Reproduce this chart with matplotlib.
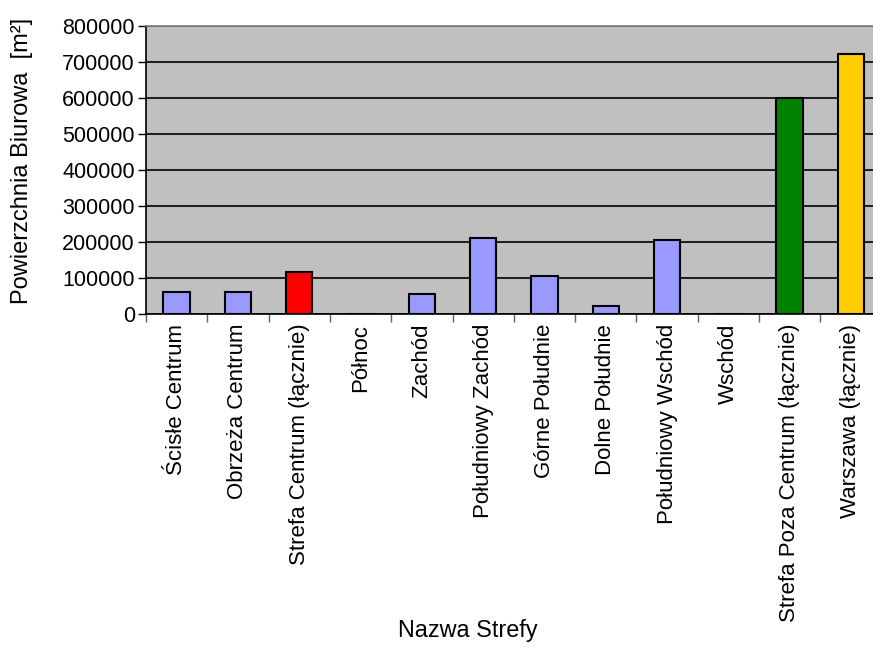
import matplotlib
matplotlib.use("Agg")
import matplotlib.pyplot as plt

categories = ["Ścisłe Centrum", "Obrzeża Centrum", "Strefa Centrum (łącznie)", "Północ",
              "Zachód", "Południowy Zachód", "Górne Południe", "Dolne Południe",
              "Południowy Wschód", "Wschód", "Strefa Poza Centrum (łącznie)", "Warszawa (łącznie)"]
values = [61000, 61000, 117000, 0, 56000, 211000, 106000, 22000, 206000, 0, 600000, 722000]
colors = ["#9999FF", "#9999FF", "#FF0000", "#9999FF", "#9999FF", "#9999FF", "#9999FF",
          "#9999FF", "#9999FF", "#9999FF", "#008000", "#FFCC00"]
yticks = [0, 100000, 200000, 300000, 400000, 500000, 600000, 700000, 800000]

plt.rcParams['font.family'] = ['Liberation Sans', 'DejaVu Sans']

fig = plt.figure(figsize=(8.73, 6.5), dpi=100)
ax = fig.add_axes([146/873, 1-314/650, (881.6-146)/873, (314-26)/650])
ax.set_facecolor("#C0C0C0")

x = list(range(len(categories)))
ax.bar(x, values, width=0.43, color=colors, edgecolor="black", linewidth=1.5, zorder=3)

ax.set_xlim(-0.5, len(categories) - 0.5)
ax.set_ylim(0, 800000)
ax.set_yticks(yticks)
ax.set_yticklabels([str(v) for v in yticks], fontsize=15.5)
ax.yaxis.grid(True, color="black", linewidth=1.2, zorder=1)
ax.set_axisbelow(True)

ax.set_xticks([i + 0.5 for i in range(-1, len(categories))], minor=False)
ax.set_xticklabels([])
ax.tick_params(axis="x", which="major", length=6, width=1, color="#606060")
ax.set_xticks(x, minor=True)
ax.set_xticklabels(categories, minor=True, rotation=90, fontsize=16)
ax.tick_params(axis="x", which="minor", length=0, pad=7)
ax.tick_params(axis="y", length=6, width=1, pad=2)

ax.spines["right"].set_visible(False)
ax.spines["top"].set_color("#808080")
ax.spines["left"].set_color("black")
ax.spines["bottom"].set_color("black")
for s in ax.spines.values():
    s.set_linewidth(1.2)

fig.text(22/873, 1-161/650, "Powierzchnia Biurowa  [m²]", rotation=90,
         ha="center", va="center", fontsize=17)
fig.text(468/873, 1-630/650, "Nazwa Strefy", ha="center", va="center", fontsize=16.8)

fig.savefig("out.png", dpi=100)
